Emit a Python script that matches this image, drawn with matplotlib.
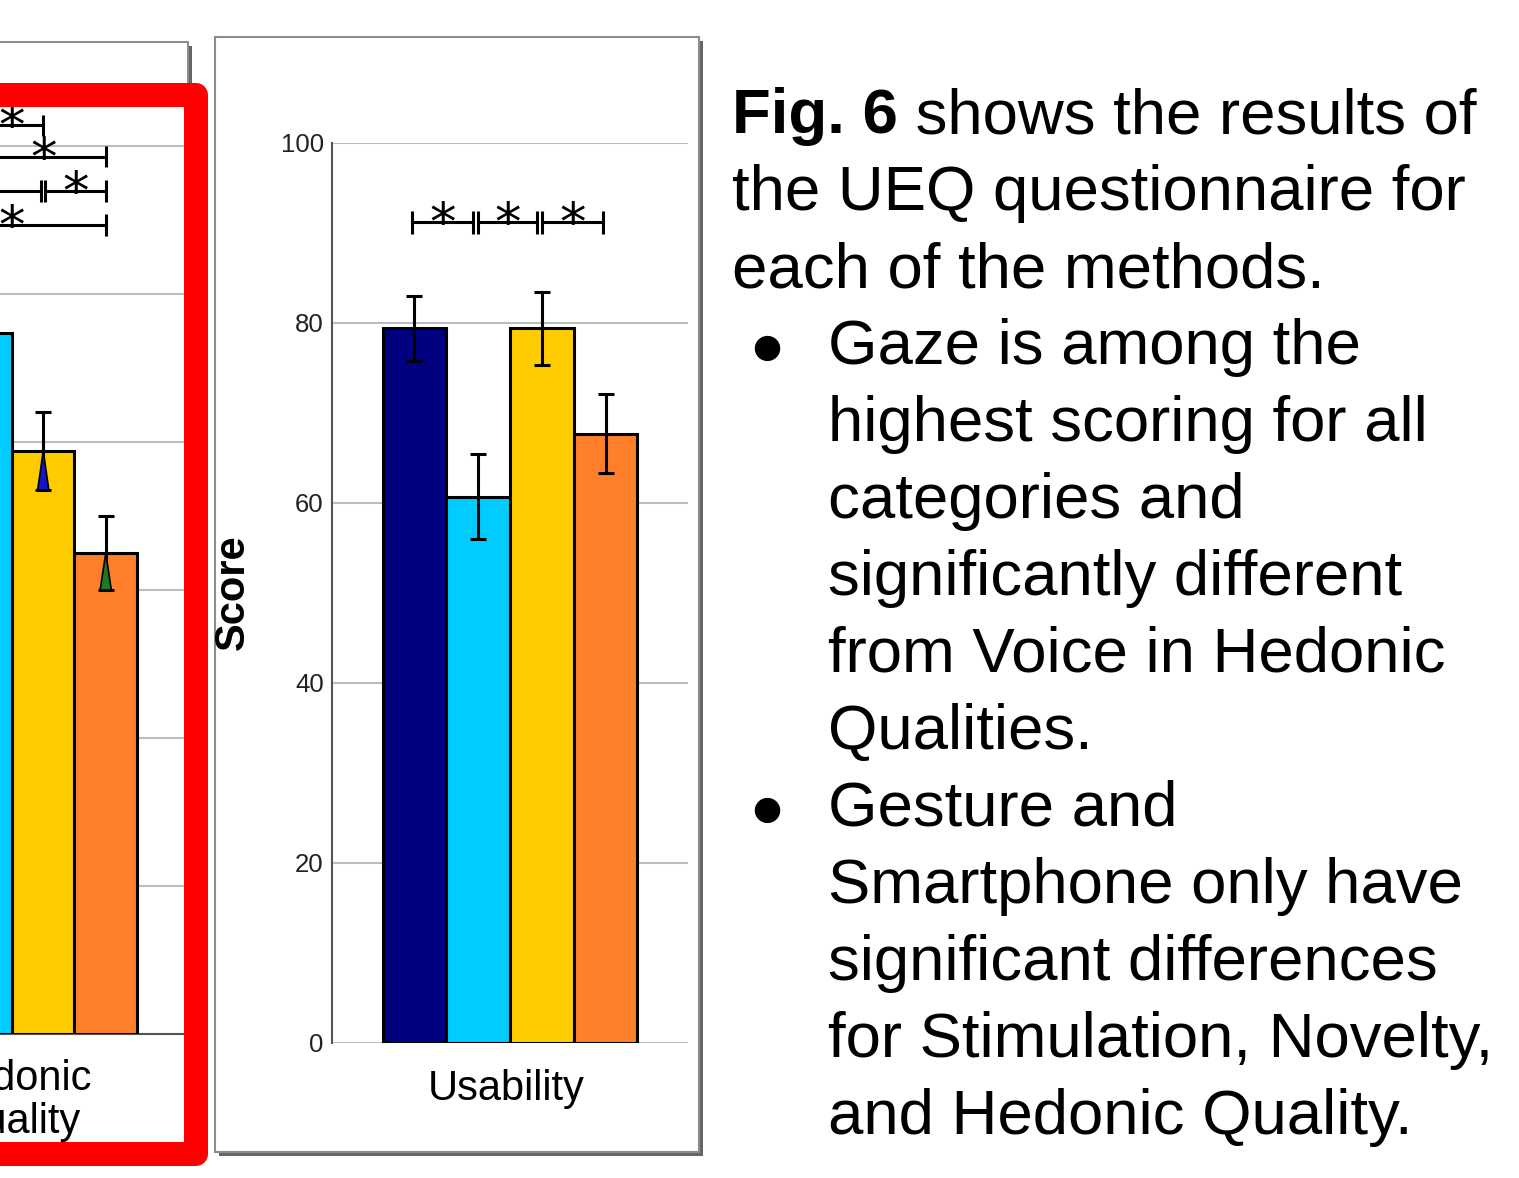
import matplotlib
matplotlib.use('Agg')
import matplotlib.pyplot as plt
from matplotlib.patches import Rectangle, Polygon
from matplotlib.transforms import offset_copy

plt.rcParams['font.family'] = ['Liberation Sans', 'DejaVu Sans']

W, H, DPI = 1519, 1178, 100

# one colour per interaction method, same order in every group
bar_colors = ['#000080', '#00CCFF', '#FFCC00', '#FF7F2A']

# SUS usability score (0-100)
usability_mean = [79.4, 60.7, 79.4, 67.7]
usability_err = [3.6, 4.7, 4.1, 4.4]
usability_sig = [(0, 1, 91.2), (1, 2, 91.2), (2, 3, 91.2)]
score_ticks = [0, 20, 40, 60, 80, 100]

# UEQ Hedonic Quality (-3..+3)
hedonic_mean = [1.80, 1.74, 0.94, 0.25]
hedonic_err = [0.27, 0.26, 0.265, 0.25]
hedonic_whisker_fill = [None, None, '#1414C8', '#1E7A1E']
hedonic_sig = [(1, 2, 3.14), (1, 3, 2.93), (0, 2, 2.70), (2, 3, 2.70), (0, 3, 2.47)]
ueq_ticks = [-3, -2, -1, 0, 1, 2, 3]

intro_bold = "Fig. 6"
intro_lines = [" shows the results of", "the UEQ questionnaire for", "each of the methods."]
bullet_items = [
    ["Gaze is among the", "highest scoring for all", "categories and",
     "significantly different", "from Voice in Hedonic", "Qualities."],
    ["Gesture and", "Smartphone only have", "significant differences",
     "for Stimulation, Novelty,", "and Hedonic Quality."],
]

fig = plt.figure(figsize=(W / DPI, H / DPI), dpi=DPI)
fig.patch.set_facecolor('white')


def px_rect(x0, y0, x1, y1):
    """Figure-fraction rectangle from pixel edges (y measured from the top)."""
    return [x0 / W, 1 - y1 / H, (x1 - x0) / W, (y1 - y0) / H]


# background layer: panel frames with drop shadow
bg = fig.add_axes([0, 0, 1, 1], zorder=0)
bg.set_xlim(0, W)
bg.set_ylim(H, 0)
bg.axis('off')
for (x0, y0, x1, y1) in [(-30, 42, 188, 1148), (215, 37, 699, 1152)]:
    bg.add_patch(Rectangle((x0 + 4, y0 + 4), x1 - x0, y1 - y0,
                           facecolor='#666666', edgecolor='none'))
    bg.add_patch(Rectangle((x0, y0), x1 - x0, y1 - y0,
                           facecolor='white', edgecolor='#8C8C8C', linewidth=1.5))


def draw_bars(ax, means, errs, width, base, fills=None):
    xs = [(i - 1.5) * width for i in range(len(means))]
    ax.bar(xs, [m - base for m in means], bottom=base, width=width,
           color=bar_colors, edgecolor='black', linewidth=2.2, zorder=3)
    ax.errorbar(xs, means, yerr=errs, fmt='none', ecolor='black',
                elinewidth=2.2, capsize=5.8, capthick=2.2, zorder=4)
    if fills:
        hw = width * 0.09
        for x, m, e, c in zip(xs, means, errs, fills):
            if c:
                ax.add_patch(Polygon([(x - hw, m - e), (x + hw, m - e), (x, m)],
                                     closed=True, facecolor=c, edgecolor='black',
                                     linewidth=1.2, zorder=5))
    return xs


def draw_sig(ax, xs, pairs, tick_h, shift_px, gap_px, star_pts, star_dy):
    px = (ax.get_xlim()[1] - ax.get_xlim()[0]) / (ax.get_position().width * W)
    star_tr = offset_copy(ax.transData, fig=fig, x=0, y=star_dy, units='dots')
    ends = {}
    for i, j, y in pairs:
        ends.setdefault((i, y), 0)
        ends.setdefault((j, y), 0)
        ends[(i, y)] += 1
        ends[(j, y)] += 1
    for i, j, y in pairs:
        xa = xs[i] + (shift_px + (gap_px if ends[(i, y)] > 1 else 0)) * px
        xb = xs[j] + (shift_px - (gap_px if ends[(j, y)] > 1 else 0)) * px
        kw = dict(color='black', linewidth=2.2, zorder=6, clip_on=False,
                  solid_capstyle='butt')
        ax.plot([xa, xb], [y, y], **kw)
        ax.plot([xa, xa], [y - tick_h, y + tick_h], **kw)
        ax.plot([xb, xb], [y - tick_h, y + tick_h], **kw)
        ax.text((xa + xb) / 2, y, '*', transform=star_tr, ha='center',
                va='baseline', fontsize=star_pts, family='DejaVu Sans',
                zorder=7, clip_on=False)


# ---- partly visible UEQ chart (Hedonic Quality group) ----
axl = fig.add_axes(px_rect(-200, 87, 188, 1034), zorder=1)
axl.patch.set_alpha(0)
wl = 0.179
axl.set_xlim(-0.607, 0.504)
axl.set_ylim(-3, 3.4)
axl.set_yticks(ueq_ticks)
axl.yaxis.grid(True, color='#BDBDBD', linewidth=1.5, zorder=0)
axl.set_axisbelow(True)
for s in ['top', 'right', 'left']:
    axl.spines[s].set_visible(False)
axl.spines['bottom'].set_color('#555555')
axl.spines['bottom'].set_linewidth(1.5)
axl.tick_params(length=0, labelleft=False)
xs_l = draw_bars(axl, hedonic_mean, hedonic_err, wl, -3, hedonic_whisker_fill)
axl.set_xticks([0.01])
axl.set_xticklabels(['Hedonic\nQuality'], fontsize=30, linespacing=1.1)
axl.tick_params(axis='x', pad=18)
draw_sig(axl, xs_l, hedonic_sig, 0.074, 0.0, 2.0, 38, -18)

# ---- Usability chart ----
axr = fig.add_axes(px_rect(332, 143, 688, 1043), zorder=1)
axr.patch.set_alpha(0)
wr = 0.179
axr.set_xlim(-0.5, 0.5)
axr.set_ylim(0, 100)
axr.set_yticks(score_ticks)
axr.set_yticklabels([str(t) for t in score_ticks], fontsize=18.5, color='#222222')
axr.yaxis.grid(True, color='#BDBDBD', linewidth=1.5, zorder=0)
axr.set_axisbelow(True)
for s in ['top', 'right', 'bottom']:
    axr.spines[s].set_visible(False)
axr.spines['left'].set_color('#555555')
axr.spines['left'].set_linewidth(1.5)
axr.tick_params(length=0)
axr.tick_params(axis='y', pad=6)
xs_r = draw_bars(axr, usability_mean, usability_err, wr, 0)
axr.set_xticks([-0.012])
axr.set_xticklabels(['Usability'], fontsize=30)
axr.tick_params(axis='x', pad=19)
draw_sig(axr, xs_r, usability_sig, 1.28, -2.5, 2.5, 38, -18)

# ---- overlay: highlight frame and summary text ----
ov = fig.add_axes([0, 0, 1, 1], zorder=5)
ov.set_xlim(0, W)
ov.set_ylim(H, 0)
ov.axis('off')
ov.patch.set_alpha(0)

ov.add_patch(Rectangle((-60, 94.5), 255.5, 1059.5, facecolor='none',
                       edgecolor='#FF0000', linewidth=17.3, joinstyle='round'))

ov.text(233, 592, 'Score', rotation=90, ha='center', va='center',
        fontsize=30, fontweight='bold')

fs = 45.7
x_text, x_bullet_text, x_bullet = 732, 828, 767
base0, step = 133, 77

renderer = fig.canvas.get_renderer()
tb = ov.text(x_text, base0, intro_bold, fontsize=fs, fontweight='bold',
             va='baseline', ha='left')
bb = tb.get_window_extent(renderer)
ov.text(bb.x1, base0, intro_lines[0], fontsize=fs, va='baseline', ha='left')
row = 1
for line in intro_lines[1:]:
    ov.text(x_text, base0 + row * step, line, fontsize=fs, va='baseline', ha='left')
    row += 1
for item in bullet_items:
    yb = base0 + row * step
    ov.text(x_bullet, yb - 17, '\u25CF', fontsize=24, family='DejaVu Sans',
            ha='center', va='center')
    for line in item:
        ov.text(x_bullet_text, base0 + row * step, line, fontsize=fs,
                va='baseline', ha='left')
        row += 1

fig.savefig('out.png', dpi=DPI, facecolor='white')
